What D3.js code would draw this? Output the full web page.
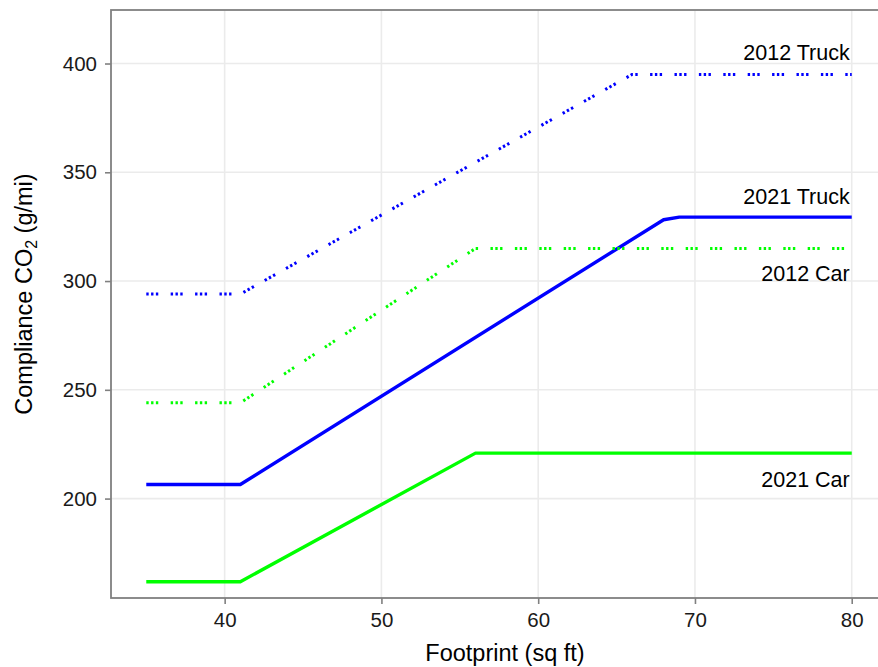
<!DOCTYPE html>
<html>
<head>
<meta charset="utf-8">
<script src="https://cdn.jsdelivr.net/npm/d3@7"></script>
<style>
	body { margin: 0; background: #fff; }
	svg { display: block; font-family: 'Liberation Sans', Arial, sans-serif; }
</style>
</head>
<body>
<div id="chart"></div>
<script>
// Data (footprint sq ft, CO2 g/mi)
const seriesNames = ['2012 Truck', '2021 Truck', '2012 Car', '2021 Car']
const truck2012 = [[35, 294], [41, 294], [66, 395], [80, 395]]
const truck2021 = [[35, 206.5], [41, 206.5], [68, 328.2], [69, 329.4], [80, 329.4]]
const car2012 = [[35, 244], [41, 244], [56, 315], [80, 315]]
const car2021 = [[35, 161.8], [41, 161.8], [56, 220.9], [80, 220.9]]
const labelX = 80
const labelY = [405, 339, 303.5, 209]
const xTicks = [40, 50, 60, 70, 80]
const yTicks = [200, 250, 300, 350, 400]

// Styles
const seriesStyle = {
	'2012 Truck': { color: '#0000ff', dash: '2.4,2.4,2.4,2.4,2.4,12.4' },
	'2021 Truck': { color: '#0000ff', dash: null },
	'2012 Car': { color: '#00ff00', dash: '2.4,2.4,2.4,2.4,2.4,12.4' },
	'2021 Car': { color: '#00ff00', dash: null }
}

const width = 878,
		height = 667,
		panel = { left: 111, right: 887, top: 10, bottom: 598 },
		axisColor = '#808080',
		gridColor = '#ebebeb',
		labelSize = 21.5

let svg, xSc, ySc

function buildSVG() {
	svg = d3.select('#chart')
		.append('svg')
			.attr('width', width)
			.attr('height', height)
}

function buildScales() {
	xSc = d3.scaleLinear()
		.domain([32.75, 82.25])
		.range([panel.left, panel.right])

	ySc = d3.scaleLinear()
		.domain([154.3, 424.6])
		.range([panel.bottom, panel.top])
}

function drawGrid() {
	let grid = svg.append('g').classed('grid-lines-group', true)

	grid.selectAll('.vgrid')
		.data(xTicks)
		.enter().append('line')
			.attr('x1', d => xSc(d)).attr('x2', d => xSc(d))
			.attr('y1', panel.top).attr('y2', panel.bottom)
			.attr('stroke', gridColor)
			.attr('stroke-width', 1.6)

	grid.selectAll('.hgrid')
		.data(yTicks)
		.enter().append('line')
			.attr('x1', panel.left).attr('x2', panel.right)
			.attr('y1', d => ySc(d)).attr('y2', d => ySc(d))
			.attr('stroke', gridColor)
			.attr('stroke-width', 1.6)
}

function drawAxes() {
	svg.append('g')
		.classed('x axis', true)
		.attr('transform', `translate(0, ${panel.bottom})`)
		.call(d3.axisBottom(xSc).tickValues(xTicks).tickSize(6).tickPadding(8).tickSizeOuter(0))

	svg.append('g')
		.classed('y axis', true)
		.attr('transform', `translate(${panel.left}, 0)`)
		.call(d3.axisLeft(ySc).tickValues(yTicks).tickSize(6).tickPadding(8).tickSizeOuter(0))

	svg.selectAll('.axis .domain').remove()
	svg.selectAll('.axis line')
		.attr('stroke', axisColor)
		.attr('stroke-width', 1.6)
	svg.selectAll('.axis text')
		.attr('fill', '#1a1a1a')
		.style('font-size', '20.5px')
		.style('font-family', "'Liberation Sans', Arial, sans-serif")

	// panel border (left, top, bottom visible)
	svg.append('rect')
		.attr('x', panel.left)
		.attr('y', panel.top)
		.attr('width', panel.right - panel.left)
		.attr('height', panel.bottom - panel.top)
		.attr('fill', 'none')
		.attr('stroke', axisColor)
		.attr('stroke-width', 1.8)

	// titles
	svg.append('text')
		.attr('x', 505)
		.attr('y', 661)
		.attr('text-anchor', 'middle')
		.style('font-size', '23.5px')
		.attr('fill', '#000')
		.text('Footprint (sq ft)')

	let yTitle = svg.append('text')
		.attr('transform', 'translate(32, 294) rotate(-90)')
		.attr('text-anchor', 'middle')
		.style('font-size', '23.5px')
		.attr('fill', '#000')
	yTitle.append('tspan').text('Compliance CO')
	yTitle.append('tspan').attr('dy', 5).style('font-size', '16px').text('2')
	yTitle.append('tspan').attr('dy', -5).text(' (g/mi)')
}

function drawLines() {
	const series = [truck2012, truck2021, car2012, car2021]
	const lineMkr = d3.line()
		.x(d => xSc(d[0]))
		.y(d => ySc(d[1]))

	let g = svg.append('g').classed('chart-group', true)

	g.selectAll('.series')
		.data(series)
		.enter().append('path')
			.classed('series', true)
			.attr('d', lineMkr)
			.attr('fill', 'none')
			.attr('stroke', (d, i) => seriesStyle[seriesNames[i]].color)
			.attr('stroke-width', (d, i) => seriesStyle[seriesNames[i]].dash ? 3 : 3.4)
			.attr('stroke-dasharray', (d, i) => seriesStyle[seriesNames[i]].dash)
			.attr('stroke-linejoin', 'round')

	g.selectAll('.label')
		.data(seriesNames)
		.enter().append('text')
			.classed('label', true)
			.attr('x', xSc(labelX) - 2)
			.attr('y', (d, i) => ySc(labelY[i]) + 0.358 * labelSize)
			.attr('text-anchor', 'end')
			.style('font-size', labelSize + 'px')
			.attr('fill', '#000')
			.text(d => d)
}

buildSVG()
buildScales()
drawGrid()
drawLines()
drawAxes()
</script>
</body>
</html>
